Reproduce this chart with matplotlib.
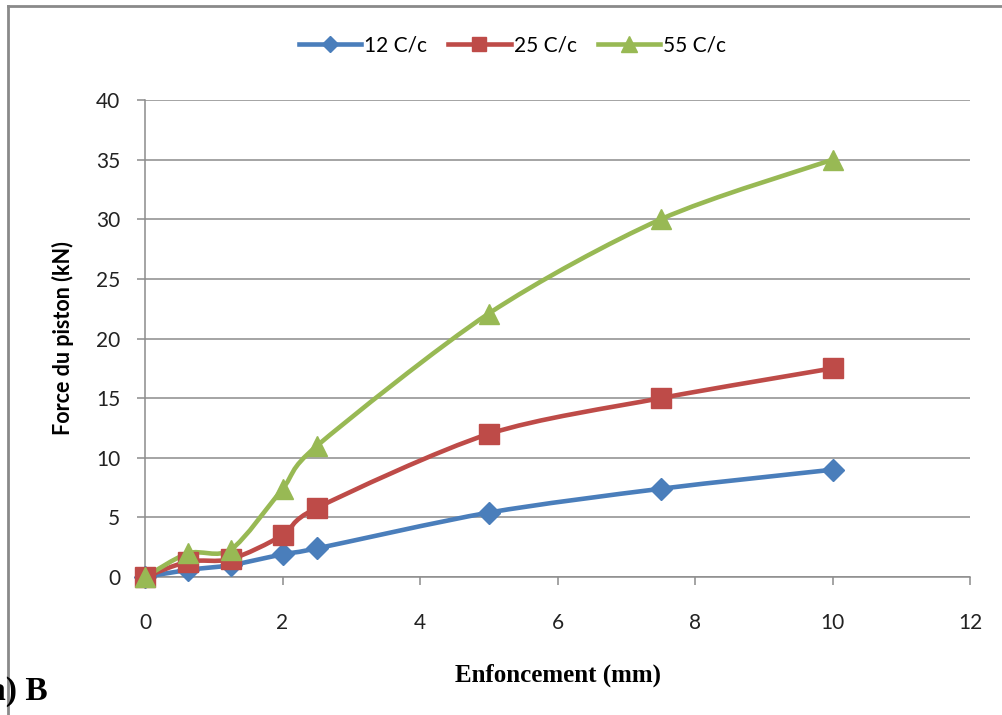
"""
Force du piston vs enfoncement for three compaction levels (12, 25, 55 C/c).
Smoothed lines like the original spreadsheet chart, saved as out.png.
"""

import matplotlib.pyplot as plt
from matplotlib.path import Path
from matplotlib.patches import PathPatch
from matplotlib.lines import Line2D

# data
enfoncement = [0, 0.63, 1.25, 2, 2.5, 5, 7.5, 10]
force_12 = [0, 0.6, 1.0, 1.9, 2.4, 5.4, 7.4, 9.0]
force_25 = [0, 1.3, 1.5, 3.5, 5.8, 12.0, 15.0, 17.5]
force_55 = [0, 2.0, 2.3, 7.4, 11.0, 22.1, 30.0, 35.0]
series_names = ["12 C/c", "25 C/c", "55 C/c"]

x_ticks = [0, 2, 4, 6, 8, 10, 12]
y_ticks = [0, 5, 10, 15, 20, 25, 30, 35, 40]


def smooth_path(xs, ys, t=1.0 / 7):
    """Bezier path through the points, spreadsheet style smoothing."""
    pts = list(zip(xs, ys))
    verts = [pts[0]]
    codes = [Path.MOVETO]
    n = len(pts)
    for i in range(n - 1):
        p0 = pts[i - 1] if i > 0 else pts[i]
        p1 = pts[i]
        p2 = pts[i + 1]
        p3 = pts[i + 2] if i + 2 < n else pts[i + 1]
        c1 = (p1[0] + (p2[0] - p0[0]) * t, p1[1] + (p2[1] - p0[1]) * t)
        c2 = (p2[0] - (p3[0] - p1[0]) * t, p2[1] - (p3[1] - p1[1]) * t)
        verts += [c1, c2, p2]
        codes += [Path.CURVE4] * 3
    return Path(verts, codes)


def main():
    fig = plt.figure(figsize=(10.03, 7.15), dpi=100)
    ax = fig.add_axes([0.1446, 0.193, 0.8225, 0.667])

    styles = [
        ("#4A7EBB", "D", 11.5),
        ("#BE4B48", "s", 14),
        ("#98B954", "^", 15),
    ]
    handles = []
    for ys, name, (col, mk, ms) in zip([force_12, force_25, force_55], series_names, styles):
        patch = PathPatch(smooth_path(enfoncement, ys), fill=False, edgecolor=col,
                          lw=3.3, capstyle="round", joinstyle="round", zorder=3,
                          clip_on=False)
        ax.add_patch(patch)
        ax.plot(enfoncement, ys, ls="none", marker=mk, ms=ms, color=col,
                markeredgecolor=col, zorder=4, clip_on=False)
        handles.append(Line2D([], [], color=col, lw=3.3, marker=mk, ms=ms * 0.75,
                              markeredgecolor=col))

    ax.set_xlim(0, 12)
    ax.set_ylim(0, 40)
    ax.set_xticks(x_ticks)
    ax.set_yticks(y_ticks)
    ax.grid(axis="y", color="#8c8c8c", lw=1.1)
    ax.set_axisbelow(True)
    for side in ["top", "right"]:
        ax.spines[side].set_visible(False)
    for side in ["left", "bottom"]:
        ax.spines[side].set_color("#8c8c8c")
        ax.spines[side].set_linewidth(1.1)
    ax.tick_params(axis="both", direction="out", length=6, width=1.1,
                   color="#8c8c8c", labelsize=15, labelcolor="#222222", pad=12)
    for lab in ax.get_xticklabels() + ax.get_yticklabels():
        lab.set_family("Lato")
    ax.tick_params(axis="x", pad=20)

    ax.set_ylabel("Force du piston (kN)", fontsize=15.5, fontweight="bold",
                  family="Lato", labelpad=16)
    ax.set_xlabel("Enfoncement (mm)", fontsize=18, fontweight="bold",
                  family="Liberation Serif", labelpad=22)

    leg = fig.legend(handles, series_names, loc="center", bbox_to_anchor=(0.511, 0.936),
                     ncol=3, frameon=False, fontsize=15, handlelength=3.0,
                     columnspacing=1.0, handletextpad=0.15)
    for txt in leg.get_texts():
        txt.set_family("Lato")

    # outer frame (only top and left edges are visible in the crop)
    fig.add_artist(Line2D([8 / 1003, 8 / 1003], [0, 1 - 6 / 715], color="#8a8a8a",
                          lw=2, transform=fig.transFigure))
    fig.add_artist(Line2D([8 / 1003, 1], [1 - 6 / 715, 1 - 6 / 715], color="#8a8a8a",
                          lw=2, transform=fig.transFigure))

    fig.text(-0.011, 0.022, "a) B", fontsize=24, fontweight="bold",
             family="Liberation Serif", ha="left", va="baseline")

    fig.savefig("out.png", dpi=100)
    plt.close(fig)


if __name__ == "__main__":
    main()
